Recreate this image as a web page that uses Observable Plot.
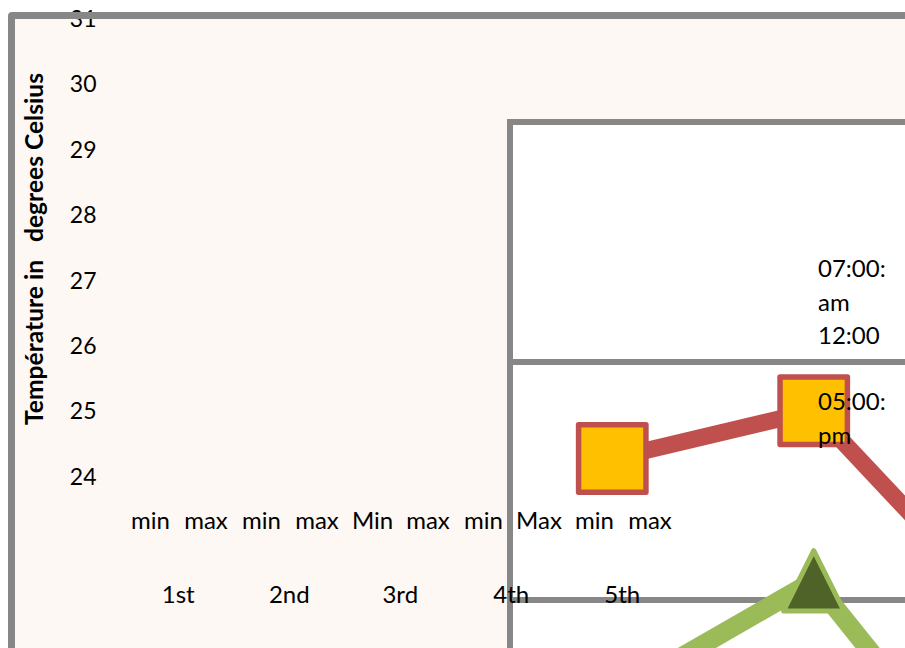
<!DOCTYPE html>
<html>
<head>
<meta charset="utf-8">
<script src="https://cdn.jsdelivr.net/npm/d3@7"></script>
<script src="https://cdn.jsdelivr.net/npm/@observablehq/plot@0.6"></script>
<style>
  html, body { margin: 0; padding: 0; background: #ffffff; }
  #stage { position: relative; width: 905px; height: 648px; overflow: hidden; font-family: Lato, "Open Sans", sans-serif; }
  #frame { position: absolute; left: 8px; top: 12px; width: 1100px; height: 900px; border: 7px solid #878787; border-radius: 4px; background: #fdf8f3; }
  #frameTop { position: absolute; left: 12px; top: 12px; width: 1100px; height: 7px; background: #878787; }
  #box { position: absolute; left: 507px; top: 119px; width: 700px; height: 700px; border-left: 6px solid #878787; border-top: 6px solid #878787; background: #ffffff; }
  .hline { position: absolute; left: 507px; width: 700px; height: 6px; background: #878787; }
  #chart { position: absolute; left: 0; top: 0; }
  #chart svg text { white-space: pre; }
  .leg { position: absolute; left: 818px; font-size: 24px; line-height: 33.5px; color: #000; white-space: pre; }
</style>
</head>
<body>
<div id="stage">
  <div id="frame"></div>
  <div id="box"></div>
  <div class="hline" style="top:359px"></div>
  <div class="hline" style="top:597px"></div>
  <div id="chart"></div>
  <div id="frameTop"></div>
  <div class="leg" id="leg1" style="top:251px"></div>
  <div class="leg" id="leg2" style="top:384px"></div>
</div>
<script>
// ---- data ----
const yTicks = [24, 25, 26, 27, 28, 29, 30, 31];
const subLabels = ["min", "max", "min", "max", "Min", "max", "min", "Max", "min", "max"];
const groupLabels = ["1st", "2nd", "3rd", "4th", "5th"];
const yTitle = "Température in   degrees Celsius";
const legendTop = ["07:00:", "am", "12:00"];
const legendBottom = ["05:00:", "pm"];
// series positions along the (broken) category axis and temperatures
const seriesX = [8.32, 11.95, 15.57];
const redSeries = [24.29, 25.02, 21.75];     // 05:00 pm
const greenSeries = [20.65, 22.42, 18.59];   // second series

const subData = subLabels.map((label, i) => ({i, label}));
const groupData = groupLabels.map((label, k) => ({pos: 2 * k + 0.5, label}));
const redData = seriesX.map((x, k) => ({x, t: redSeries[k]}));
const greenData = seriesX.map((x, k) => ({x, t: greenSeries[k]}));

const triangle = {
  draw(ctx, size) {
    const s = Math.sqrt(size);
    ctx.moveTo(0, -s / 2);
    ctx.lineTo(s / 2, s / 2);
    ctx.lineTo(-s / 2, s / 2);
    ctx.closePath();
  }
};

const chart = Plot.plot({
  width: 905,
  height: 648,
  marginLeft: 99,
  marginTop: 0,
  marginRight: 0,
  marginBottom: 139,
  style: {background: "transparent", fontFamily: "Lato, 'Open Sans', sans-serif", color: "#000", overflow: "visible"},
  x: {type: "linear", domain: [0, 9], range: [150, 649.5], axis: null},
  y: {domain: [24, 31], range: [477, 19.2]},
  marks: [
    Plot.axisY({ticks: yTicks, tickSize: 0, tickPadding: 3, label: null, fontSize: 23, tickFormat: d => String(d)}),
    Plot.text(subData, {x: "i", text: "label", frameAnchor: "bottom", lineAnchor: "top", dy: 2, fontSize: 24, fill: "#000"}),
    Plot.text(groupData, {x: "pos", text: "label", frameAnchor: "bottom", lineAnchor: "top", dy: 76, fontSize: 24, fill: "#000"}),
    Plot.text([yTitle], {frameAnchor: "left", rotate: -90, dx: -63.9, dy: -6, fontWeight: "bold", fontSize: 24.6, textAnchor: "middle", fill: "#000"}),
    Plot.line(greenData, {x: "x", y: "t", stroke: "#9bbb59", strokeWidth: 19, strokeLinejoin: "round"}),
    Plot.line(redData, {x: "x", y: "t", stroke: "#c0504d", strokeWidth: 17, strokeLinejoin: "round"}),
    Plot.dot(redData, {x: "x", y: "t", symbol: "square", r: 38, fill: "#ffc000", stroke: "#c0504d", strokeWidth: 5.5, strokeLinejoin: "round"}),
    Plot.dot(greenData, {x: "x", y: "t", symbol: triangle, r: 34, fill: "#4f6228", stroke: "#9bbb59", strokeWidth: 5, strokeLinejoin: "round"})
  ]
});
document.getElementById("chart").appendChild(chart);
document.getElementById("leg1").textContent = legendTop.join("\n");
document.getElementById("leg2").textContent = legendBottom.join("\n");
</script>
</body>
</html>
